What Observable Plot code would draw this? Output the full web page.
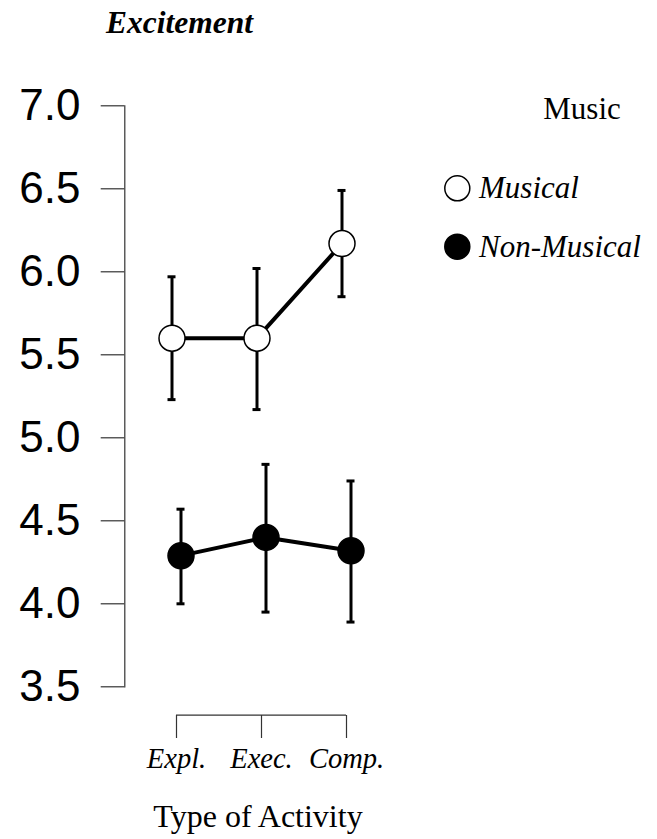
<!DOCTYPE html>
<html><head><meta charset="utf-8">
<script src="https://cdn.jsdelivr.net/npm/d3@7"></script>
<script src="https://cdn.jsdelivr.net/npm/@observablehq/plot@0.6"></script>
<style>body{margin:0;background:#fff} #chart{position:relative;width:657px;height:839px}</style>
</head><body><div id="chart"></div>
<script>
const activities = ["Expl.", "Exec.", "Comp."];
const musicGroups = ["Musical", "Non-Musical"];
const musicalMean = [5.60, 5.60, 6.17];
const musicalLower = [5.23, 5.17, 5.85];
const musicalUpper = [5.97, 6.02, 6.49];
const nonMusicalMean = [4.29, 4.40, 4.32];
const nonMusicalLower = [4.00, 3.95, 3.89];
const nonMusicalUpper = [4.57, 4.84, 4.74];
const yTicks = [3.5, 4.0, 4.5, 5.0, 5.5, 6.0, 6.5, 7.0];
const chartTitle = "Excitement";
const xTitle = "Type of Activity";
const legendTitle = "Music";

const serif = "'Liberation Serif','Times New Roman',Times,serif";
const sans = "'Liberation Sans',Arial,Helvetica,sans-serif";

const series = {
  "Musical": {mean: musicalMean, lower: musicalLower, upper: musicalUpper, fill: "white", dx: -4.5},
  "Non-Musical": {mean: nonMusicalMean, lower: nonMusicalLower, upper: nonMusicalUpper, fill: "black", dx: 4.5}
};

const marks = [
  Plot.frame({anchor: "left", insetBottom: 28.7, stroke: "#333", strokeWidth: 1.2}),
  Plot.axisY({ticks: yTicks, tickFormat: d => d.toFixed(1), tickSize: 23.6, tickPadding: 20.7,
    fontSize: 44, fontFamily: sans, stroke: "#333", strokeWidth: 1.2, color: "black", label: null}),
  Plot.axisX({tickSize: 23, tickPadding: 9, fontSize: 28.5, fontFamily: serif, fontStyle: "italic",
    stroke: "#333", strokeWidth: 1.2, label: null}),
  Plot.ruleY([d3.min(yTicks)], {x1: () => activities[0], x2: () => activities[activities.length - 1], dy: 28.3, stroke: "#333", strokeWidth: 1.2})
];

for (const g of musicGroups) {
  const s = series[g];
  const rows = activities.map((a, i) => ({activity: a, group: g, mean: s.mean[i], lower: s.lower[i], upper: s.upper[i]}));
  marks.push(
    Plot.line(rows, {x: "activity", y: "mean", dx: s.dx, stroke: "black", strokeWidth: 4}),
    Plot.ruleX(rows, {x: "activity", y1: "lower", y2: "upper", dx: s.dx, stroke: "black", strokeWidth: 3}),
    Plot.ruleY(rows, {y: "lower", x1: "activity", x2: "activity", dx: s.dx, insetLeft: -4, insetRight: -4, stroke: "black", strokeWidth: 3}),
    Plot.ruleY(rows, {y: "upper", x1: "activity", x2: "activity", dx: s.dx, insetLeft: -4, insetRight: -4, stroke: "black", strokeWidth: 3}),
    Plot.dot(rows, {x: "activity", y: "mean", dx: s.dx, r: 13, fill: s.fill, stroke: "black", strokeWidth: 1.5})
  );
}

const chart = Plot.plot({
  width: 657, height: 839,
  marginLeft: 124.3, marginTop: 105.3, marginBottom: 124, marginRight: 0,
  style: {background: "white", color: "black", overflow: "visible"},
  x: {type: "point", domain: activities, range: [175.7, 346], padding: 0, axis: null},
  y: {domain: [3.5, 7], range: [686.3, 105.3], axis: null},
  marks
});

const svg = d3.select(chart);
function addText(txt, x, y, size, opts = {}) {
  return svg.append("text").text(txt).attr("x", x).attr("y", y)
    .attr("text-anchor", opts.anchor || "start")
    .style("font-family", serif).style("font-size", size + "px")
    .style("font-weight", opts.weight || "normal").style("font-style", opts.style || "normal")
    .attr("fill", "black");
}
addText(chartTitle, 106, 33, 31.5, {weight: "bold", style: "italic"});
addText(xTitle, 258, 827, 32, {anchor: "middle"});
addText(legendTitle, 543.3, 119, 31);
const legendY = {"Musical": 188.3, "Non-Musical": 246.7};
for (const g of musicGroups) {
  svg.append("circle").attr("cx", 457.3).attr("cy", legendY[g]).attr("r", 12.5)
    .attr("fill", series[g].fill).attr("stroke", "black").attr("stroke-width", 1.5);
  addText(g, 479, legendY[g] + 10, 31, {style: "italic"});
}
document.getElementById("chart").appendChild(chart);
</script></body></html>
